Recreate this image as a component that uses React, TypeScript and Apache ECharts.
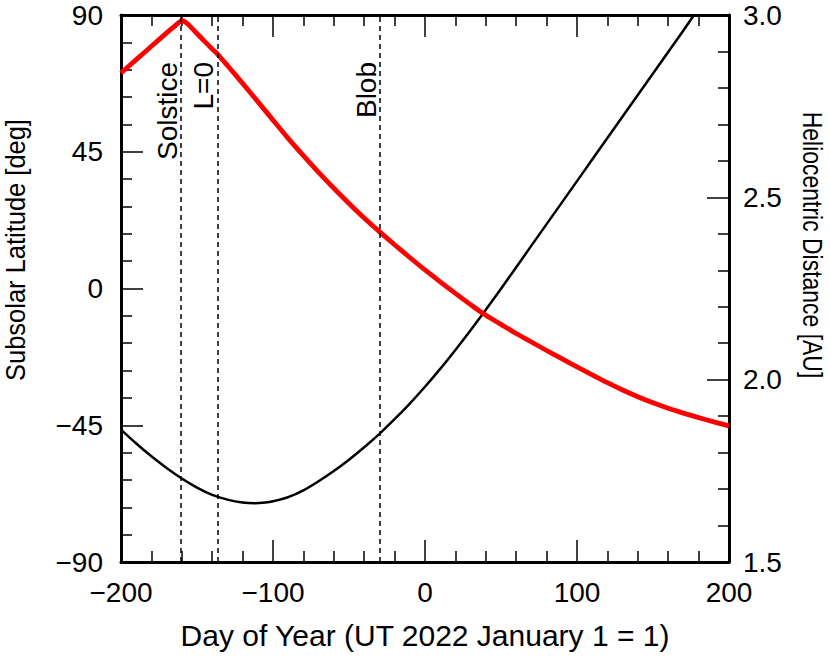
import React, { useEffect, useRef } from 'react';
import * as echarts from 'echarts';

// Subsolar latitude (red, left axis)
const latDays = [-200, -190, -180, -170, -165, -162, -160, -158, -155, -150, -145, -140, -137, -130, -120, -110, -100, -90, -80, -70, -60, -50, -40, -30, -20, -10, 0, 10, 20, 30, 40, 50, 60, 70, 80, 90, 100, 110, 120, 130, 140, 150, 160, 170, 180, 190, 200];
const latValues = [70.9, 75.3, 79.7, 84.1, 86.2, 87.5, 88.1, 87.8, 86.5, 83.9, 81.3, 78.8, 77.4, 73.4, 67.5, 61.5, 55.4, 49.4, 43.7, 38.2, 33.0, 28.0, 23.2, 18.7, 14.4, 10.2, 6.1, 2.2, -1.6, -5.3, -8.8, -11.8, -14.8, -17.6, -20.4, -23.1, -25.8, -28.4, -31.0, -33.4, -35.6, -37.6, -39.4, -41.0, -42.5, -43.9, -45.2];

// Heliocentric distance (black, right axis)
const distDays = [-200, -190, -180, -170, -160, -150, -140, -130, -120, -112, -105, -100, -90, -80, -70, -60, -50, -40, -30, -20, -10, 0, 10, 20, 30, 40, 50, 60, 70, 80, 90, 100, 110, 120, 130, 140, 150, 160, 170, 177];
const distValues = [1.863, 1.825, 1.790, 1.758, 1.729, 1.704, 1.684, 1.671, 1.663, 1.661, 1.663, 1.6665, 1.678, 1.6965, 1.7215, 1.7495, 1.7805, 1.8145, 1.8515, 1.8915, 1.9345, 1.9805, 2.0295, 2.0815, 2.1355, 2.1915, 2.2495, 2.3085, 2.3675, 2.4265, 2.4855, 2.5445, 2.6035, 2.6625, 2.7215, 2.7805, 2.8395, 2.8985, 2.9575, 3.0];

// Event markers
const eventDays = [-160.4, -136.6, -29.6];
const eventLabels = ['Solstice', 'L=0', 'Blob'];

const xTitle = 'Day of Year (UT 2022 January 1 = 1)';
const yLeftTitle = 'Subsolar Latitude [deg]';
const yRightTitle = 'Heliocentric Distance [AU]';

const FONT = '"Liberation Sans", Arial, Helvetica, sans-serif';
const minus = (v: number) => (v < 0 ? '\u2212' + Math.abs(v) : String(v));

export default function App() {
  const ref = useRef<HTMLDivElement>(null);
  useEffect(() => {
    const chart = echarts.init(ref.current!, null, { renderer: 'svg' });
    const axisLine = { show: true, onZero: false, lineStyle: { color: '#000', width: 3 } };
    const tick = (len: number) => ({ show: true, inside: true, length: len, lineStyle: { color: '#000', width: 1.5 } });
    const minor = { show: true, splitNumber: 5, length: 11, lineStyle: { color: '#000', width: 1.5 } };
    const label = { fontSize: 28, fontFamily: FONT, color: '#000' };
    const option: any = {
      animation: false,
      backgroundColor: '#fff',
      grid: { left: 121, right: 101, top: 15, bottom: 99, containLabel: false },
      xAxis: [
        {
          type: 'value', min: -200, max: 200, interval: 100, position: 'bottom',
          axisLine, axisTick: tick(22), minorTick: minor,
          splitLine: { show: false }, minorSplitLine: { show: false },
          axisLabel: { ...label, margin: 16, formatter: minus },
        },
        {
          type: 'value', min: -200, max: 200, interval: 100, position: 'top',
          axisLine, axisTick: tick(22), minorTick: minor,
          splitLine: { show: false }, minorSplitLine: { show: false },
          axisLabel: { show: false },
        },
      ],
      yAxis: [
        {
          type: 'value', min: -90, max: 90, interval: 45, position: 'left',
          axisLine, axisTick: tick(22), minorTick: minor,
          splitLine: { show: false }, minorSplitLine: { show: false },
          axisLabel: { ...label, margin: 18, formatter: minus },
        },
        {
          type: 'value', min: 1.5, max: 3.0, interval: 0.5, position: 'right',
          axisLine, axisTick: tick(22), minorTick: minor,
          splitLine: { show: false }, minorSplitLine: { show: false },
          axisLabel: { ...label, margin: 14, formatter: (v: number) => v.toFixed(1) },
        },
      ],
      series: [
        {
          type: 'line', data: [], z: 1, silent: true,
          markLine: {
            silent: true, symbol: 'none', animation: false,
            label: { show: false },
            lineStyle: { color: '#000', width: 1.5, type: [5, 4] },
            data: eventDays.map((d) => ({ xAxis: d })),
          },
        },
        {
          type: 'line', xAxisIndex: 0, yAxisIndex: 1, z: 2,
          data: distDays.map((d, i) => [d, distValues[i]]),
          showSymbol: false, smooth: 0.3,
          lineStyle: { color: '#000', width: 2.5 },
        },
        {
          type: 'line', xAxisIndex: 0, yAxisIndex: 0, z: 3,
          data: latDays.map((d, i) => [d, latValues[i]]),
          showSymbol: false, smooth: 0.3,
          lineStyle: { color: '#ff0000', width: 4.8 },
        },
      ],
    };
    chart.setOption(option);

    const txt = (text: string, x: number, y: number, rotation: number, align: string, size = 28, scaleX = 1) => ({
      type: 'text', x, y, rotation, scaleX, silent: true,
      style: { text, align, verticalAlign: 'middle', font: `${size}px ${FONT}`, fill: '#000' },
    });
    const events = eventDays.map((d, i) => {
      const px = chart.convertToPixel({ xAxisIndex: 0 }, d) as number;
      return txt(eventLabels[i], px - 14, 62, Math.PI / 2, 'right');
    });
    chart.setOption({
      graphic: [
        txt(xTitle, 425, 635, 0, 'center', 30),
        txt(yLeftTitle, 16, 250, Math.PI / 2, 'center', 28, 0.91),
        txt(yRightTitle, 813, 245, -Math.PI / 2, 'center', 28, 0.82),
        ...events,
      ],
    });
    return () => chart.dispose();
  }, []);
  return <div ref={ref} style={{ position: 'fixed', left: 0, top: 0, width: 830, height: 661 }} />;
}
